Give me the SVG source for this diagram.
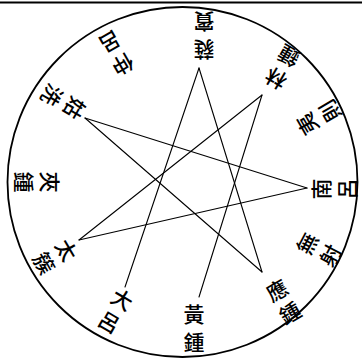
<svg xmlns="http://www.w3.org/2000/svg" width="362" height="358" viewBox="0 0 362 358">
<style>
.lb{font-family:"Noto Sans CJK TC","Noto Sans CJK SC",sans-serif;font-size:21px;font-weight:500;fill:#000;text-anchor:middle;dominant-baseline:central;}
.ln{stroke:#000;stroke-width:1.1;fill:none;stroke-linecap:round;}
</style>
<rect width="362" height="358" fill="#fff"/>
<line x1="0" y1="2.5" x2="362" y2="2.5" stroke="#000" stroke-width="2.2"/>
<circle cx="182.5" cy="182" r="175" fill="none" stroke="#000" stroke-width="1.8"/>
<g id="connectors">
<line class="ln" x1="199" y1="297" x2="262" y2="95"/>
<line class="ln" x1="262" y1="95" x2="79" y2="240"/>
<line class="ln" x1="79" y1="240" x2="307" y2="188"/>
<line class="ln" x1="307" y1="188" x2="85" y2="118"/>
<line class="ln" x1="85" y1="118" x2="262" y2="272"/>
<line class="ln" x1="262" y1="272" x2="199" y2="68"/>
<line class="ln" x1="199" y1="68" x2="125" y2="287"/>
</g>
<g id="huangzhong" transform="translate(194 327) rotate(0)"><text class="lb"><tspan x="0" y="-14">黃</tspan><tspan x="0" y="14">鍾</tspan></text></g>
<g id="dalu" transform="translate(116 310) rotate(30)"><text class="lb"><tspan x="0" y="-13">大</tspan><tspan x="0" y="13">呂</tspan></text></g>
<g id="taicu" transform="translate(56 256) rotate(60)"><text class="lb"><tspan x="0" y="-13">太</tspan><tspan x="0" y="13">簇</tspan></text></g>
<g id="jiazhong" transform="translate(38 182) rotate(90)"><text class="lb"><tspan x="0" y="-13">夾</tspan><tspan x="0" y="13">鍾</tspan></text></g>
<g id="guxi" transform="translate(64 102) rotate(120)"><text class="lb"><tspan x="0" y="-13">姑</tspan><tspan x="0" y="13">洗</tspan></text></g>
<g id="zhonglu" transform="translate(117 54) rotate(150)"><text class="lb"><tspan x="0" y="-13">仲</tspan><tspan x="0" y="13">呂</tspan></text></g>
<g id="ruibin" transform="translate(204 37) rotate(180)"><text class="lb"><tspan x="0" y="-14">蕤</tspan><tspan x="0" y="14">賓</tspan></text></g>
<g id="linzhong" transform="translate(282 68) rotate(210)"><text class="lb"><tspan x="0" y="-13">林</tspan><tspan x="0" y="13">鍾</tspan></text></g>
<g id="yize" transform="translate(318 118) rotate(240)"><text class="lb"><tspan x="0" y="-13">夷</tspan><tspan x="0" y="13">則</tspan></text></g>
<g id="nanlu" transform="translate(333 189) rotate(270)"><text class="lb"><tspan x="0" y="-13">南</tspan><tspan x="0" y="13">呂</tspan></text></g>
<g id="wuyi" transform="translate(318 249) rotate(298)"><text class="lb"><tspan x="0" y="-13">無</tspan><tspan x="0" y="13">射</tspan></text></g>
<g id="yingzhong" transform="translate(283 301) rotate(330)"><text class="lb"><tspan x="0" y="-13">應</tspan><tspan x="0" y="13">鍾</tspan></text></g>
</svg>
